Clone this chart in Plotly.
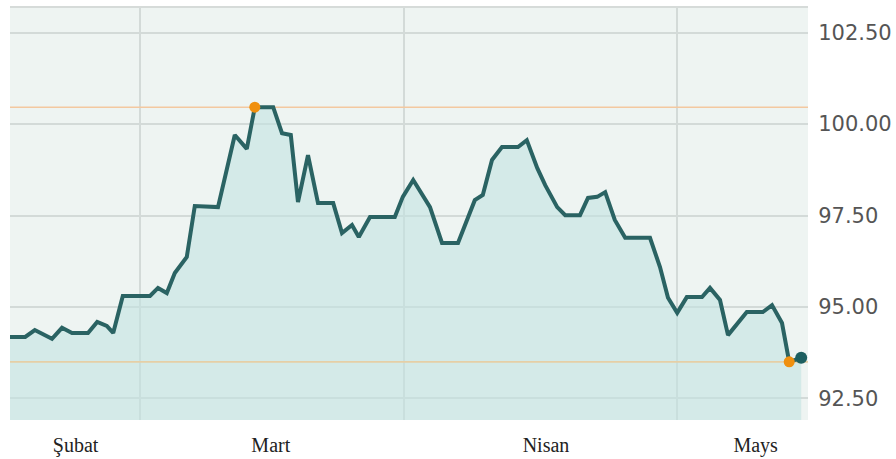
import plotly.graph_objects as go

# trading-day position (x) and price (y)
day = [0, 1.9, 3.1, 5.25, 6.5, 7.75, 9.75, 10.9, 12.1, 12.9, 14.1, 17.5, 18.5, 19.6,
       20.6, 22.1, 23.1, 26, 28.1, 29.6, 30.6, 32.9, 34, 35.1, 36, 37.25, 38.5, 40.4,
       41.5, 42.75, 43.6, 45, 48.1, 49.1, 50.4, 52.5, 54, 56, 58.1, 59.1, 60.25, 61.5,
       63.5, 64.6, 65.9, 66.9, 68.4, 69.4, 71.25, 72.25, 73.4, 74.4, 75.6, 76.9, 80,
       81.25, 82.25, 83.4, 84.6, 86.5, 87.5, 88.75, 89.75, 90.9, 92.1, 94.1, 95.25,
       96.5, 97.4, 98.9]
price = [94.18, 94.18, 94.37, 94.13, 94.43, 94.29, 94.29, 94.59, 94.48, 94.29, 95.30,
         95.30, 95.52, 95.38, 95.93, 96.37, 97.76, 97.73, 99.70, 99.32, 100.46, 100.46,
         99.75, 99.70, 97.87, 99.15, 97.84, 97.84, 97.02, 97.24, 96.91, 97.46, 97.46,
         98.01, 98.47, 97.73, 96.75, 96.75, 97.92, 98.06, 99.02, 99.37, 99.37, 99.56,
         98.80, 98.33, 97.73, 97.51, 97.51, 97.98, 98.01, 98.14, 97.38, 96.89, 96.89,
         96.09, 95.25, 94.84, 95.27, 95.27, 95.52, 95.19, 94.23, 94.56, 94.86, 94.86,
         95.05, 94.56, 93.50, 93.61]

month_labels = ["Şubat", "Mart", "Nisan", "Mays"]
month_label_pos = [8.2, 32.6, 67.0, 93.2]
month_grid_pos = [16.25, 49.25, 83.4]
y_ticks = [92.5, 95.0, 97.5, 100.0, 102.5]

hi = max(price)
lo = min(price)
i_hi = price.index(hi)
i_lo = price.index(lo)
x_span = [0, 99.75]

fig = go.Figure()
# area fill
fig.add_trace(go.Scatter(
    x=day, y=price, mode="lines", fill="tozeroy",
    fillcolor="rgba(195,227,225,0.6)",
    line=dict(width=0), hoverinfo="skip"))
# high / low reference lines
for v, c in ((hi, "#f3c8a0"), (lo, "#e6cfa6")):
    fig.add_trace(go.Scatter(
        x=x_span, y=[v, v], mode="lines",
        line=dict(color=c, width=1.6), hoverinfo="skip"))
# price line
fig.add_trace(go.Scatter(
    x=day, y=price, mode="lines",
    line=dict(color="#2a6363", width=4), hoverinfo="skip"))
fig.add_trace(go.Scatter(
    x=[day[i_hi], day[i_lo]], y=[hi, lo], mode="markers",
    marker=dict(color="#f0900f", size=11), hoverinfo="skip"))
fig.add_trace(go.Scatter(
    x=[day[-1]], y=[price[-1]], mode="markers",
    marker=dict(color="#1d5f60", size=12), hoverinfo="skip"))

fig.add_shape(type="line", xref="paper", x0=0, x1=1, yref="paper", y0=1, y1=1,
              line=dict(color="#d6dbd9", width=2))

fig.update_layout(
    width=896, height=459,
    margin=dict(l=10, r=88, t=7, b=39),
    paper_bgcolor="white", plot_bgcolor="#eef4f2",
    showlegend=False,
    xaxis=dict(
        range=x_span, tickmode="array", tickvals=month_label_pos,
        ticktext=month_labels, showgrid=False, zeroline=False, automargin=False,
        ticks="outside", ticklen=7, tickcolor="rgba(0,0,0,0)",
        tickfont=dict(family="Liberation Serif", size=20, color="#222222"),
        minor=dict(tickmode="array", tickvals=month_grid_pos, showgrid=True,
                   gridcolor="#d3dad8", gridwidth=1.5, ticks=""),
    ),
    yaxis=dict(
        range=[91.91, 103.2], side="right", tickmode="array", tickvals=y_ticks,
        ticktext=[f"{v:.2f}" for v in y_ticks], showgrid=True, automargin=False,
        gridcolor="#d3dad8", gridwidth=1.5, zeroline=False,
        ticks="outside", ticklen=5, tickcolor="rgba(0,0,0,0)",
        tickfont=dict(family="DejaVu Sans", size=21, color="#555555"),
    ),
)

fig.write_html("out.html")
